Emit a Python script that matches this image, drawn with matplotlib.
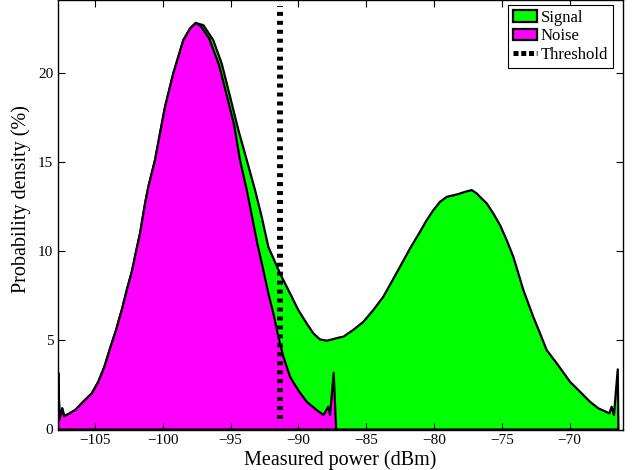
import matplotlib
matplotlib.use("Agg")
import matplotlib.pyplot as plt
from matplotlib.patches import Patch
from matplotlib.lines import Line2D

# Noise power distribution (dBm, %)
noise_x = [-107.72, -107.62, -107.42, -107.28, -106.90, -106.47, -105.74, -105.24,
           -104.76, -104.31, -103.89, -103.45, -103.03, -102.66, -102.29, -101.98,
           -101.68, -101.31, -101.07, -100.58, -100.21, -99.84, -99.23, -98.49,
           -97.99, -97.57, -97.20, -96.58, -95.85, -95.23, -94.74, -94.31,
           -93.81, -93.33, -93.02, -92.59, -92.22, -91.85, -91.48, -91.11,
           -90.62, -90.01, -89.39, -88.65, -88.16, -87.79, -87.67, -87.40, -87.22]
noise_y = [3.19, 0.55, 1.19, 0.74, 0.90, 1.09, 1.66, 2.03,
           2.68, 3.53, 4.56, 5.59, 6.71, 7.83, 8.86, 9.98,
           11.02, 12.70, 13.63, 15.13, 16.63, 18.12, 20.00, 21.87,
           22.53, 22.84, 22.66, 21.96, 20.46, 18.60, 17.10, 15.13,
           13.45, 11.60, 10.40, 8.96, 7.65, 6.52, 5.21, 4.09,
           2.96, 2.20, 1.56, 1.09, 0.81, 1.28, 0.81, 3.19, 0.0]

# Signal power distribution (dBm, %)
signal_x = [-107.72, -107.62, -107.42, -107.28, -106.90, -106.47, -105.74, -105.24,
            -104.76, -104.31, -103.89, -103.45, -103.03, -102.66, -102.29, -101.98,
            -101.68, -101.31, -101.07, -100.58, -100.21, -99.84, -99.23, -98.49,
            -97.99, -97.57, -97.01, -96.28, -95.66, -95.04, -94.43, -93.81,
            -93.20, -92.71, -92.22, -91.36, -90.62, -90.01, -89.39, -88.90,
            -88.41, -87.91, -87.67, -86.93, -86.69, -85.95, -85.21, -84.48,
            -83.74, -83.12, -82.51, -81.77, -81.03, -80.54, -80.05, -79.56,
            -79.06, -78.33, -77.71, -77.22, -76.85, -76.61, -76.11, -75.63,
            -75.13, -74.64, -74.15, -73.78, -73.41, -73.05, -72.68, -72.18,
            -71.69, -70.95, -69.97, -69.23, -68.50, -67.88, -67.07, -66.90,
            -66.73, -66.45, -66.40]
signal_y = [3.19, 0.55, 1.19, 0.74, 0.90, 1.09, 1.66, 2.03,
            2.68, 3.53, 4.56, 5.59, 6.71, 7.83, 8.86, 9.98,
            11.02, 12.70, 13.63, 15.13, 16.63, 18.12, 20.00, 21.87,
            22.53, 22.84, 22.71, 21.87, 20.56, 18.69, 16.82, 15.13,
            13.45, 11.95, 10.26, 8.77, 7.65, 6.71, 5.96, 5.40,
            5.06, 4.99, 5.03, 5.18, 5.21, 5.60, 6.05, 6.71,
            7.46, 8.30, 9.14, 10.17, 11.11, 11.76, 12.32, 12.79,
            13.07, 13.20, 13.35, 13.45, 13.26, 13.07, 12.70, 12.14,
            11.48, 10.64, 9.70, 8.77, 7.83, 7.09, 6.33, 5.40,
            4.46, 3.72, 2.68, 2.12, 1.56, 1.19, 0.91, 1.28,
            0.81, 3.38, 0.0]

threshold = -91.33
x_ticks = [-105, -100, -95, -90, -85, -80, -75, -70]
y_ticks = [0, 5, 10, 15, 20]

plt.rcParams["font.family"] = ["Liberation Serif", "DejaVu Serif"]

fig = plt.figure(figsize=(6.38, 4.70), dpi=100)
ax = fig.add_axes([57.5 / 638, 40.5 / 470, (623.3 - 57.5) / 638, (469.5 - 40.5) / 470])

def closed(xs, ys):
    return [xs[0]] + list(xs) + [xs[-1]], [0.0] + list(ys) + [0.0]

sx, sy = closed(signal_x, signal_y)
ax.fill(sx, sy, facecolor="#00ff00", edgecolor="black", linewidth=1.6, joinstyle="round")
nx, ny = closed(noise_x, noise_y)
ax.fill(nx, ny, facecolor="#ff00ff", edgecolor="black", linewidth=1.6, joinstyle="round")

ax.plot([threshold, threshold], [0.6, 23.8], color="black", linewidth=4.3,
        dashes=(0.67, 0.83), solid_capstyle="butt", dash_capstyle="butt")

ax.set_xlim(-107.77, -66.04)
ax.set_ylim(0, 24.1)
ax.set_xticks(x_ticks)
ax.set_yticks(y_ticks)
ax.tick_params(direction="in", length=5, width=0.8, top=True, right=True,
               labelsize=11, pad=3)
for s in ax.spines.values():
    s.set_linewidth(1.0)

ax.set_xlabel("Measured power (dBm)", fontsize=14.5)
ax.xaxis.set_label_coords(0.5, -0.049)
ax.set_ylabel("Probability density (%)", fontsize=14.5)
ax.yaxis.set_label_coords(-0.047, 0.537)

handles = [Patch(facecolor="#00ff00", edgecolor="black", linewidth=1.6, label="Signal"),
           Patch(facecolor="#ff00ff", edgecolor="black", linewidth=1.6, label="Noise"),
           Line2D([0], [0], color="black", linewidth=3.6, dashes=(1.0, 0.55),
                  dash_capstyle="butt", label="Threshold")]
leg = ax.legend(handles=handles, loc="upper right",
                bbox_to_anchor=((613 - 57.5) / 565.8, 1 - 4.5 / 429), borderaxespad=0,
                fontsize=12, fancybox=False, framealpha=1, edgecolor="black",
                handlelength=1.45, handleheight=0.7, handletextpad=0.2,
                borderpad=0.3, labelspacing=0.15)
leg.get_frame().set_linewidth(0.8)

fig.savefig("out.png", dpi=100)
